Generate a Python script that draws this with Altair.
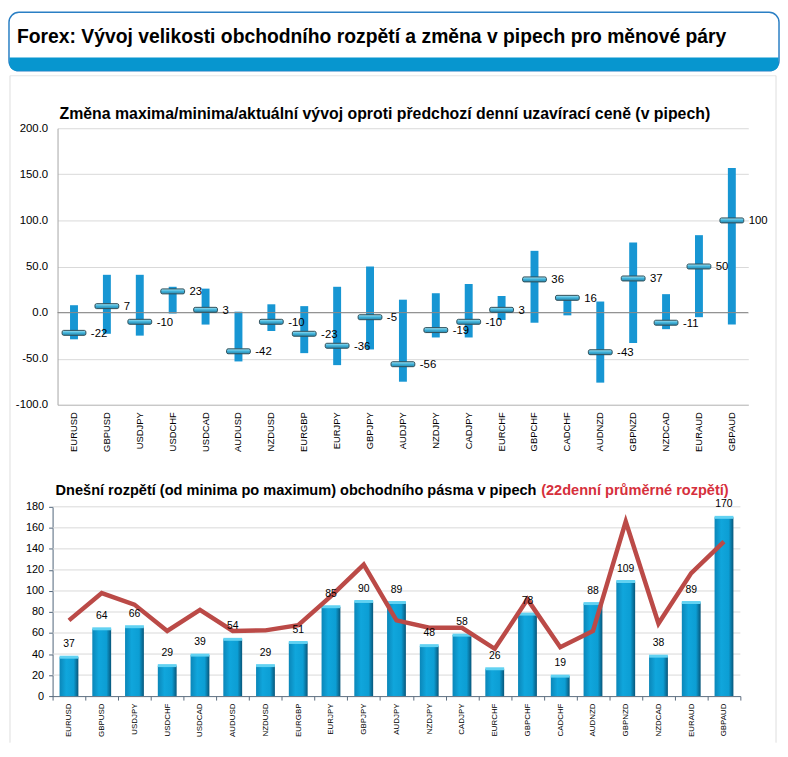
import altair as alt
import pandas as pd

pairs = ["EURUSD", "GBPUSD", "USDJPY", "USDCHF", "USDCAD", "AUDUSD", "NZDUSD",
         "EURGBP", "EURJPY", "GBPJPY", "AUDJPY", "NZDJPY", "CADJPY", "EURCHF",
         "GBPCHF", "CADCHF", "AUDNZD", "GBPNZD", "NZDCAD", "EURAUD", "GBPAUD"]
high = [8, 41, 41, 28, 26, 1, 9, 7, 28, 50, 14, 21, 31, 18, 67, 16, 12, 76, 20, 84, 157]
low = [-29, -23, -25, -1, -13, -53, -20, -44, -57, -40, -75, -27, -27, -8, -11, -3, -76, -33, -18, -5, -13]
current = [-22, 7, -10, 23, 3, -42, -10, -23, -36, -5, -56, -19, -10, 3, 36, 16, -43, 37, -11, 50, 100]
day_range = [37, 64, 66, 29, 39, 54, 29, 51, 85, 90, 89, 48, 58, 26, 78, 19, 88, 109, 38, 89, 170]
avg22 = [72, 98, 87, 62, 82, 62, 62.5, 67.5, 95, 125, 72, 65, 65, 45, 92, 46.5, 62, 166, 69, 117, 147]

top_ticks = [-100, -50, 0, 50, 100, 150, 200]
bottom_ticks = [0, 20, 40, 60, 80, 100, 120, 140, 160, 180]

header_text = "Forex: Vývoj velikosti obchodního rozpětí a změna v pipech pro měnové páry"
top_title = "Změna maxima/minima/aktuální vývoj oproti předchozí denní uzavírací ceně (v pipech)"
bottom_title_black = "Dnešní rozpětí (od minima po maximum) obchodního pásma v pipech"
bottom_title_red = "(22denní průměrné rozpětí)"

df = pd.DataFrame({"pair": pairs, "high": high, "low": low, "current": current,
                   "range": day_range, "avg": avg22})
deco = pd.DataFrame({"k": [0]})
zero = pd.DataFrame({"z": [0]})
grid_b = pd.DataFrame({"g": bottom_ticks[1:]})

FONT = "Liberation Sans"
MINUS = "\u2212"
TW, TH = 697, 279
BW, BH = 689, 191

# ---------------- top chart ----------------
xt = alt.X("pair:N", scale=alt.Scale(domain=pairs, paddingInner=0, paddingOuter=0),
           axis=alt.Axis(labelAngle=270, labelFont=FONT, labelFontSize=9.5,
                         labelColor="black", ticks=False, domainColor="#bfbfbf",
                         labelPadding=7, title=None))
yscale_t = alt.Scale(domain=[-100, 200], nice=False)
yaxis_t = alt.Axis(values=top_ticks, grid=True, gridColor="#d9d9d9",
                   labelExpr="replace(format(datum.value, '.1f'), '" + MINUS + "', '-')",
                   domainColor="#a6a6a6", ticks=False, labelPadding=10, labelFont=FONT,
                   labelFontSize=11.5, labelColor="black", labelOverlap=False, title=None)

header_box = alt.Chart(deco).mark_rect(cornerRadius=10, fill="white", stroke="#2a7fc4",
                                       strokeWidth=1.5).encode(
    x=alt.value(-49), x2=alt.value(728), y=alt.value(-117), y2=alt.value(-58))
header_strip = alt.Chart(deco).mark_rect(fill="#0796cf", cornerRadiusBottomLeft=10,
                                         cornerRadiusBottomRight=10).encode(
    x=alt.value(-48.5), x2=alt.value(727.5), y=alt.value(-71.5), y2=alt.value(-58))
header_label = alt.Chart(deco).mark_text(align="left", baseline="middle", fontSize=19.5,
                                         fontWeight="bold", font=FONT, color="black").encode(
    x=alt.value(-41), y=alt.value(-92), text=alt.value(header_text))
panel_left = alt.Chart(deco).mark_rule(color="#dedede").encode(
    x=alt.value(-48), y=alt.value(-53), y2=alt.value(620))
panel_top = alt.Chart(deco).mark_rule(color="#e6e6e6").encode(
    x=alt.value(-48), x2=alt.value(725), y=alt.value(-53))
panel_right = alt.Chart(deco).mark_rule(color="#dedede").encode(
    x=alt.value(725), y=alt.value(-53), y2=alt.value(620))
top_title_mark = alt.Chart(deco).mark_text(align="left", baseline="middle", fontSize=16,
                                           fontWeight="bold", font=FONT, color="black").encode(
    x=alt.value(2), y=alt.value(-14), text=alt.value(top_title))

base_t = alt.Chart(df).encode(x=xt)
ranges = base_t.mark_bar(size=8, color="#1796d3").encode(
    y=alt.Y("low:Q", scale=yscale_t, axis=yaxis_t), y2="high:Q")
zero_rule = alt.Chart(zero).mark_rule(color="#8a8a8a", strokeWidth=1).encode(
    y=alt.Y("z:Q", scale=yscale_t, axis=yaxis_t))
marker_fill = alt.Gradient(gradient="linear", x1=0, x2=0, y1=0, y2=1,
                           stops=[alt.GradientStop(color="#a6e4f4", offset=0),
                                  alt.GradientStop(color="#3fb2da", offset=0.5),
                                  alt.GradientStop(color="#2a86ab", offset=1)])
markers = base_t.mark_tick(size=24, thickness=5, fill=marker_fill, stroke="#2f4e58",
                           strokeWidth=1, opacity=1, cornerRadius=1.5).encode(
    y=alt.Y("current:Q", scale=yscale_t, axis=yaxis_t))
vlabels = base_t.transform_calculate(lbl="'' + datum.current").mark_text(
    align="left", baseline="middle", dx=17, dy=1, fontSize=11.5, font=FONT,
    color="black").encode(y=alt.Y("current:Q", scale=yscale_t, axis=yaxis_t), text="lbl:N")

top = alt.layer(panel_left, panel_top, panel_right, header_box, header_strip, header_label,
                top_title_mark, ranges, zero_rule, markers, vlabels).properties(width=TW, height=TH)

# ---------------- bottom chart ----------------
xb = alt.X("pair:N", scale=alt.Scale(domain=pairs, range=[-5, BW], paddingInner=0, paddingOuter=0),
           axis=alt.Axis(labelAngle=270, labelFont=FONT, labelFontSize=8, labelColor="black",
                         tickBand="extent", tickSize=4, tickColor="#5b6b7d",
                         domainColor="#5b6b7d", labelPadding=3, title=None))
yscale_b = alt.Scale(domain=[0, 180], nice=False)
yaxis_b = alt.Axis(values=bottom_ticks, grid=False, domainColor="#4f6378", tickColor="#4f6378",
                   tickSize=4, labelPadding=5, labelFont=FONT, labelFontSize=11,
                   labelColor="black", offset=5, labelOverlap=False, labelFlush=False,
                   title=None)

gridlines_b = alt.Chart(grid_b).mark_rule(color="#d9d9d9").encode(
    y=alt.Y("g:Q", scale=yscale_b, axis=yaxis_b), x=alt.value(-5), x2=alt.value(BW))
bar_fill = alt.Gradient(gradient="linear", x1=0, x2=1, y1=0, y2=0,
                        stops=[alt.GradientStop(color="#0b86b8", offset=0),
                               alt.GradientStop(color="#10a6dc", offset=0.35),
                               alt.GradientStop(color="#0c9ed4", offset=0.75),
                               alt.GradientStop(color="#08567a", offset=1)])
base_b = alt.Chart(df).encode(x=xb)
bars = base_b.mark_bar(size=19, fill=bar_fill).encode(
    y=alt.Y("range:Q", scale=yscale_b, axis=yaxis_b))
caps = base_b.mark_tick(size=19, thickness=3, color="#62d2f2", opacity=1).encode(
    y=alt.Y("range:Q", scale=yscale_b, axis=yaxis_b))
avg_line = base_b.mark_line(color="#bb4a47", strokeWidth=4.5, strokeJoin="miter").encode(
    y=alt.Y("avg:Q", scale=yscale_b, axis=yaxis_b))
blabels = base_b.mark_text(baseline="middle", dy=-13, fontSize=10.5, font=FONT,
                           color="black").encode(y=alt.Y("range:Q", scale=yscale_b, axis=yaxis_b),
                                                 text="range:Q")
btitle1 = alt.Chart(deco).mark_text(align="left", baseline="middle", fontSize=14.7,
                                    fontWeight="bold", font=FONT, color="black").encode(
    x=alt.value(-2), y=alt.value(-16), text=alt.value(bottom_title_black))
btitle2 = alt.Chart(deco).mark_text(align="left", baseline="middle", fontSize=14.7,
                                    fontWeight="bold", font=FONT, color="#d6303c").encode(
    x=alt.value(488), y=alt.value(-16), text=alt.value(bottom_title_red))

bottom = alt.layer(gridlines_b, bars, caps, avg_line, blabels, btitle1, btitle2).properties(
    width=BW, height=BH)

chart = alt.vconcat(top, bottom, spacing=103, bounds="flush").properties(
    padding=0, background="white").configure_view(stroke=None)

chart.save("out.html", embed_options={"renderer": "svg", "actions": False})
